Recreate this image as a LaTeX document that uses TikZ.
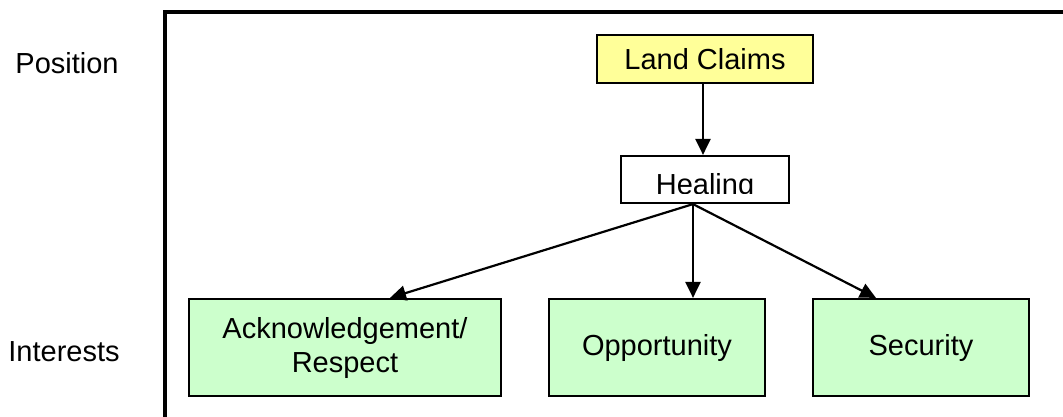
\documentclass[tikz,border=0pt]{standalone}
\usepackage{fontspec}
\setmainfont{Liberation Sans}
\usetikzlibrary{arrows.meta,calc}
\definecolor{posyellow}{HTML}{FFFF99}
\definecolor{intgreen}{HTML}{CCFFCC}
\begin{document}
\begin{tikzpicture}[x=1pt,y=-1pt,
  box/.style={draw=black,line width=2.2pt,rectangle,inner sep=0pt,align=center,
    font=\fontsize{29}{34}\selectfont},
  lab/.style={font=\fontsize{29}{34}\selectfont,inner sep=0pt},
  conn/.style={line width=2.2pt,-{Triangle[length=16pt,width=15pt]}}]
\clip (0,0) rectangle (1063,416);
\fill[white] (0,0) rectangle (1063,416);
% frame (only top and left edges visible)
\draw[line width=4.5pt] (1100,12) -- (165,12) -- (165,440);
% row labels
\node[lab] (pos) at (67,63) {Position};
\node[lab,anchor=base] (int) at (64,361) {Interests};
% nodes
\node[box,fill=posyellow,minimum width=216pt,minimum height=48pt] (land) at (705,59) {Land Claims};
\node[box,fill=white,minimum width=168pt,minimum height=47pt] (heal) at (705,179.5) {};
\begin{scope}
  \clip (620,150) rectangle (790,193);
  \node[lab,anchor=base] (healtxt) at (705,194.5) {Healing};
\end{scope}
\node[box,fill=intgreen,minimum width=312pt,minimum height=97pt] (ack) at (345,347.5) {Acknowledgement/\\Respect};
\node[box,fill=intgreen,minimum width=216pt,minimum height=97pt] (opp) at (657,347.5) {Opportunity};
\node[box,fill=intgreen,minimum width=216pt,minimum height=97pt] (sec) at (921,347.5) {Security};
% connectors
\coordinate (hb) at ([xshift=-12pt]heal.south);
\draw[conn] ([xshift=-2pt]land.south) -- ([xshift=-2pt]heal.north);
\draw[conn] (hb) -- ([xshift=45pt]ack.north);
\draw[conn] (hb) -- ([xshift=36pt]opp.north);
\draw[conn] (hb) -- ([xshift=-45pt]sec.north);
\end{tikzpicture}
\end{document}
